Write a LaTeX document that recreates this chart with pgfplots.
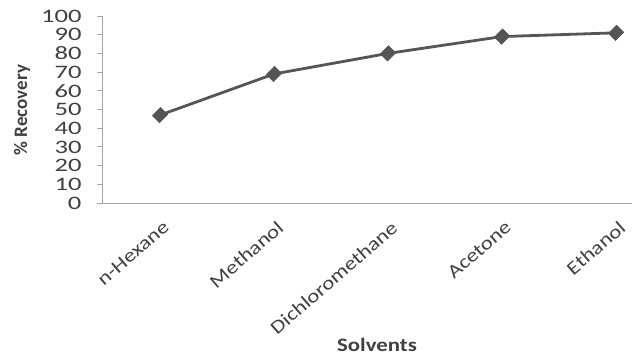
\documentclass[border=0pt]{standalone}
\usepackage{pgfplots}
\pgfplotsset{compat=1.18}
\usepackage{fontspec}
\setmainfont{Carlito}[FakeStretch=1.2]
\newfontfamily\labelfont{Carlito}
\newfontfamily\yfont{Carlito}[FakeStretch=1.4]
\definecolor{axisgray}{HTML}{A6A6A6}
\definecolor{textgray}{HTML}{404040}
\definecolor{linegray}{HTML}{555555}

\pgfplotstableread{
idx value
0 47
1 69
2 80
3 89
4 91
}\recovery

\begin{document}
\begin{tikzpicture}
\useasboundingbox (-103bp,-154bp) rectangle (529bp,203bp);
\begin{axis}[
  at={(0,0)}, anchor=south west,
  scale only axis,
  width=529bp, height=187bp,
  xmin=-0.5, xmax=4.14,
  ymin=0, ymax=100,
  ytick={0,10,...,100},
  xtick={0,1,2,3,4},
  xticklabels={n-Hexane,Methanol,Dichloromethane,Acetone,Ethanol},
  minor xtick={-0.5,0.5,1.5,2.5,3.5},
  axis lines=left,
  axis line style={-, axisgray, line width=1bp},
  tick align=outside,
  major tick length=6bp,
  minor tick length=6bp,
  x tick style={draw=none},
  minor x tick style={axisgray, line width=1bp},
  y tick style={axisgray, line width=1bp},
  tick label style={font=\fontsize{19bp}{21bp}\selectfont, text=textgray},
  /pgf/number format/assume math mode=true,
  yticklabel style={font=\yfont\fontsize{19bp}{21bp}\selectfont, xshift=-12bp},
  xticklabel style={rotate=41, anchor=north east, xshift=-2bp, yshift=-6bp},
  xlabel={Solvents},
  ylabel={\% Recovery},
  xlabel style={at={(axis description cs:0.518,-0.759)}, anchor=center,
    font=\fontsize{19bp}{21bp}\selectfont\bfseries, text=textgray},
  ylabel style={at={(axis description cs:-0.153,0.497)}, anchor=center, rotate=0,
    font=\labelfont\fontsize{19bp}{21bp}\selectfont\bfseries, text=textgray},
  clip=false,
]
\addplot[linegray, line width=2.8bp, mark=square*,
  mark size=5.8bp, mark options={rotate=45, yscale=0.88, fill=linegray, draw=linegray, line width=0.5bp}]
  table[x=idx, y=value] {\recovery};
\end{axis}
\end{tikzpicture}
\end{document}
